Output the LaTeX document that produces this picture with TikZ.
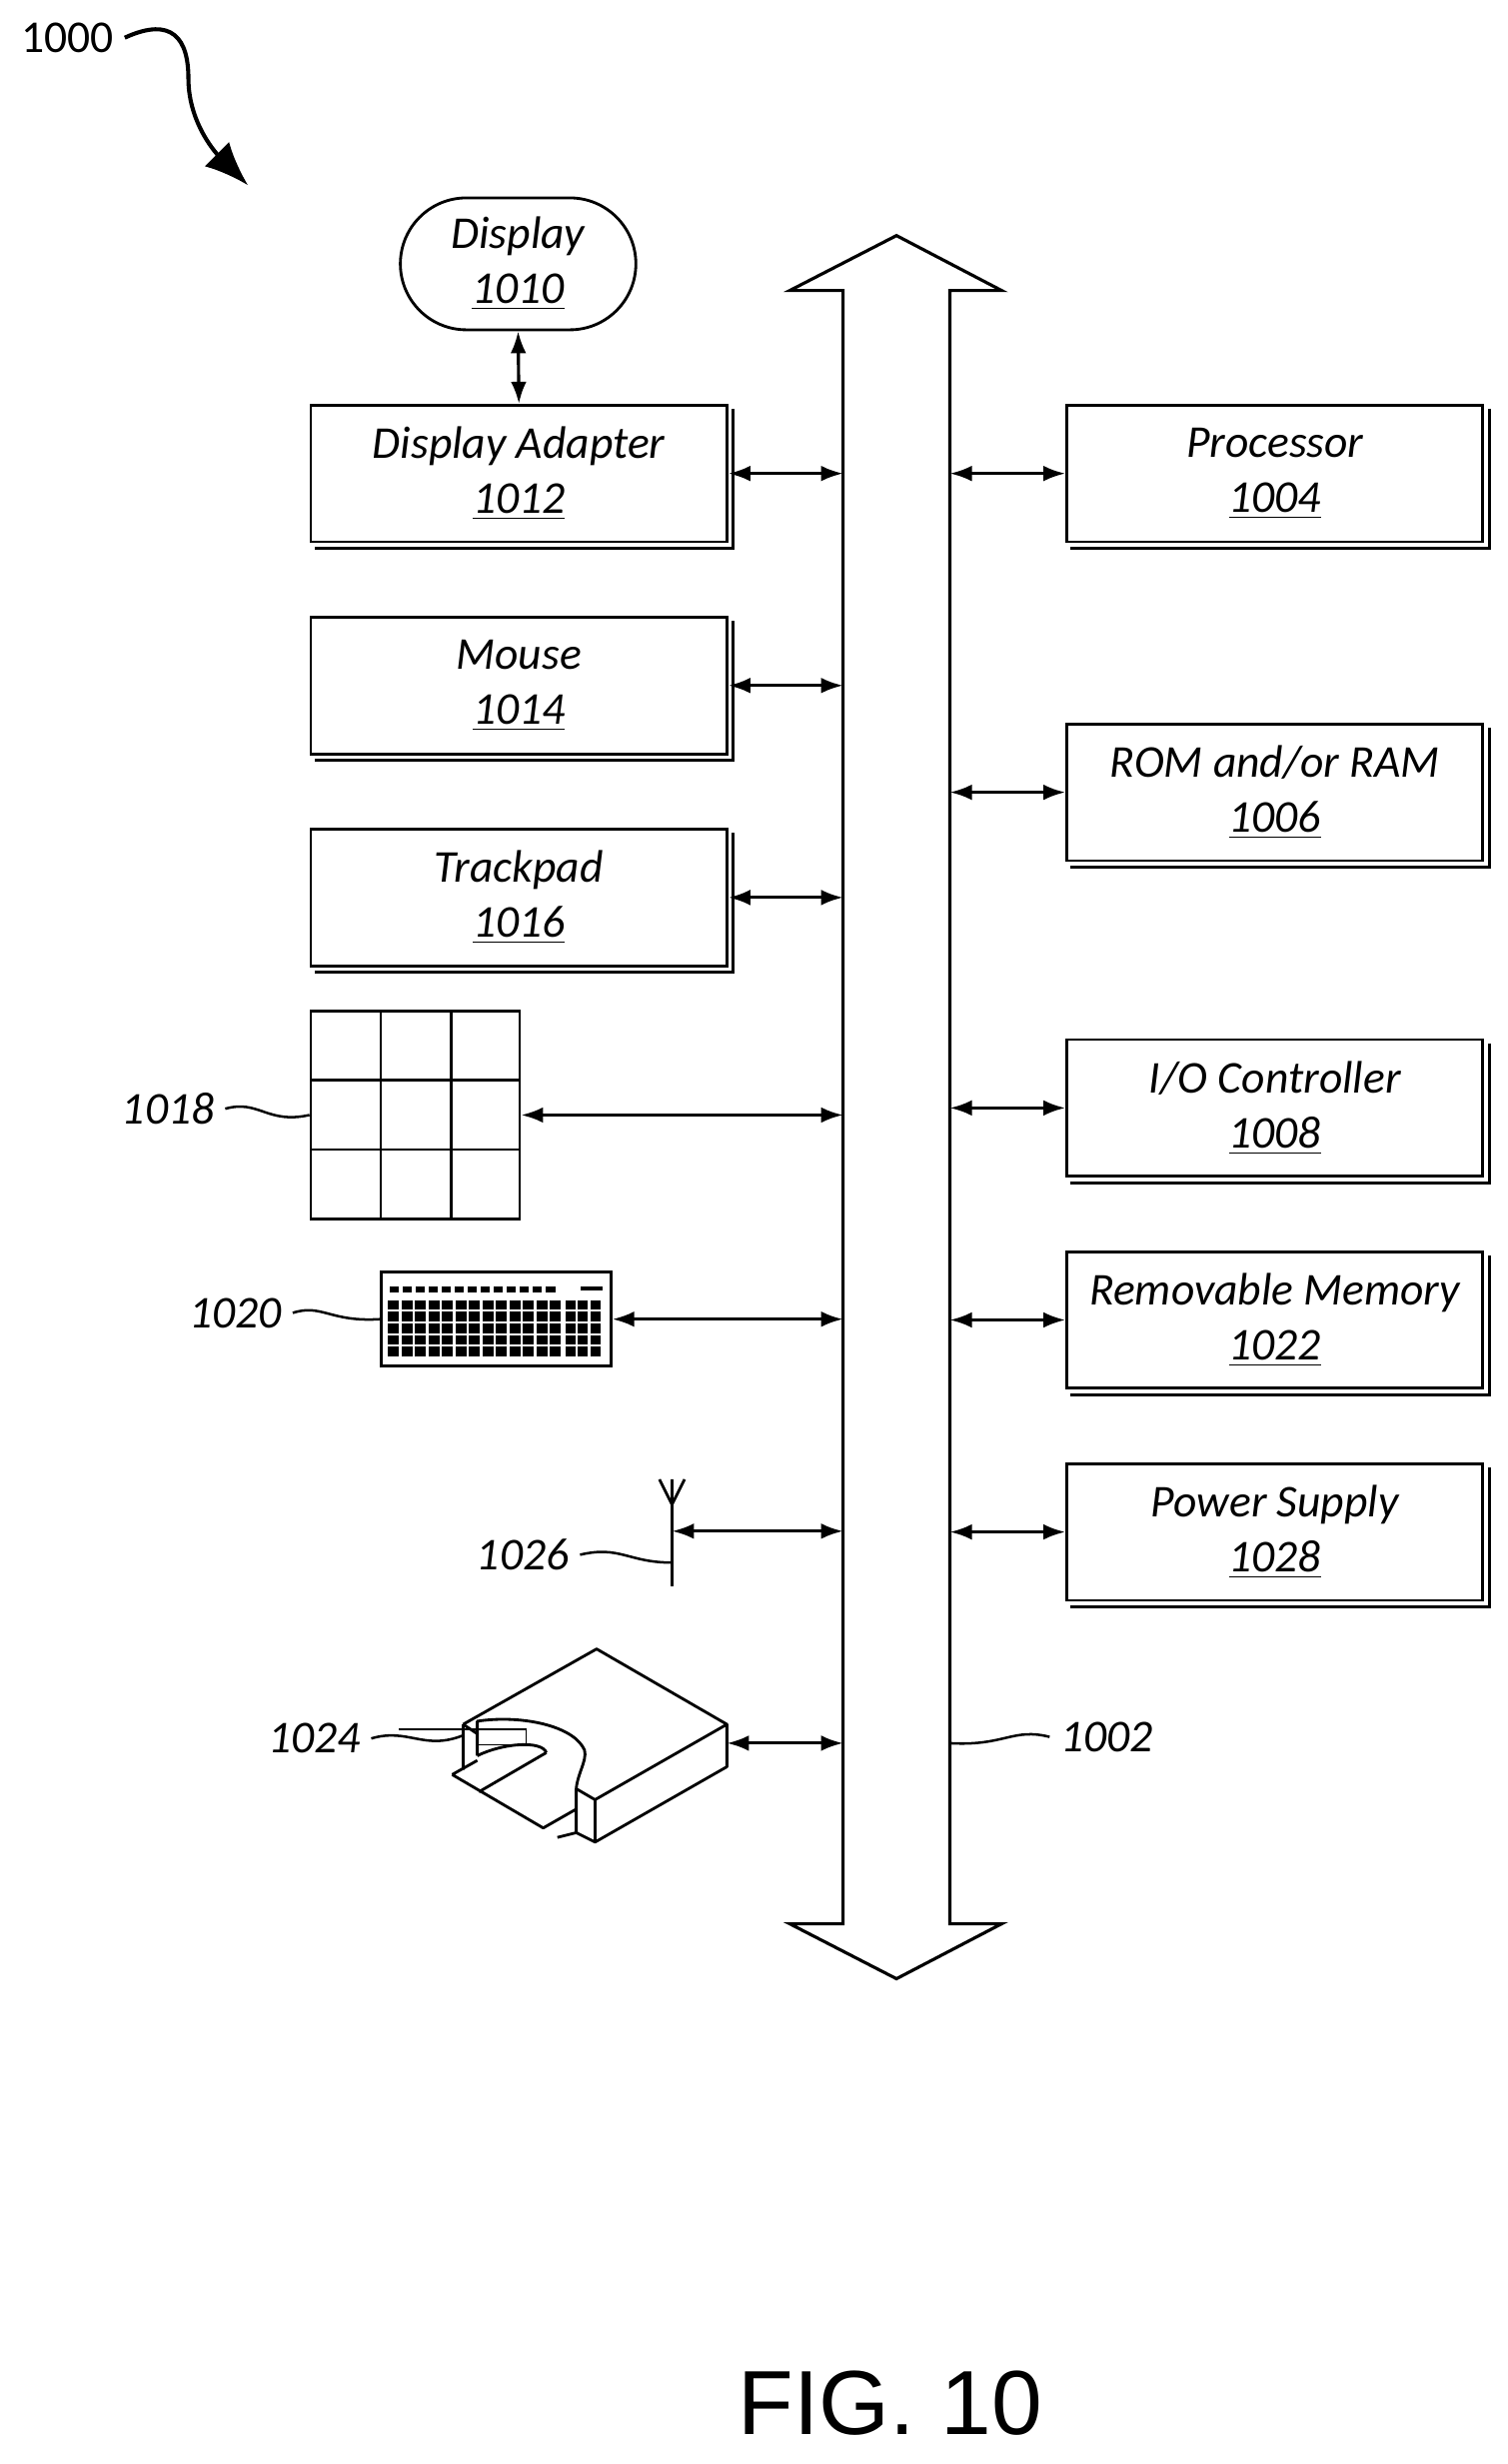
\documentclass[tikz,border=0pt]{standalone}
\usepackage{fontspec}
\setmainfont{Carlito}
\newfontfamily\figfont{Liberation Sans}
\usetikzlibrary{arrows.meta}
\begin{document}
\begin{tikzpicture}[x=0.5pt,y=-0.5pt,
  lbl/.style={font=\fontsize{14.5}{17.5}\selectfont\itshape},
  box/.style={draw,line width=0.9pt,minimum width=132.5pt,minimum height=43.5pt,align=center,inner sep=0pt,lbl,
    append after command={\pgfextra{\draw[line width=0.9pt] ([shift={(1.6pt,-1.6pt)}]\tikzlastnode.north east) -- ([shift={(1.6pt,-1.6pt)}]\tikzlastnode.south east) -- ([shift={(1.6pt,-1.6pt)}]\tikzlastnode.south west);}}},
  con/.style={{Latex[length=7pt,width=5pt]}-{Latex[length=7pt,width=5pt]},line width=1pt},
  lead/.style={line width=0.8pt}]
\useasboundingbox (0,0) rectangle (960,1569);
% bus
\draw[line width=1pt] (571,150) -- (638,185) -- (605,185) -- (605,1225) -- (638,1225) -- (571,1260) -- (503,1225) -- (537,1225) -- (537,185) -- (503,185) -- cycle;
\coordinate (busL) at (537,0); \coordinate (busR) at (605,0);
% title ref
\node[font=\fontsize{14.5}{17}\selectfont] (n1000) at (43,24) {1000};
\draw[line width=1.3pt,-{Latex[length=14pt,width=11pt]}] (n1000.east) .. controls (110,10) and (120,25) .. (120,50) .. controls (120,80) and (140,100) .. (158,118);
% display
\node[draw,line width=0.9pt,rounded corners=21pt,minimum width=75pt,minimum height=42pt,align=center,lbl,inner sep=0pt] (disp) at (330,168) {Display\\\underline{1010}};
\node[box] (da) at (330.5,301.5) {Display Adapter\\\underline{1012}};
\draw[con] (disp.south) -- (da.north);
\node[box] (mouse) at (330.5,436.5) {Mouse\\\underline{1014}};
\node[box] (track) at (330.5,571.5) {Trackpad\\\underline{1016}};
\draw[con] (da.east) -- (da.east -| busL);
\draw[con] (mouse.east) -- (mouse.east -| busL);
\draw[con] (track.east) -- (track.east -| busL);
% right boxes
\node[box] (proc) at (812,301.5) {Processor\\\underline{1004}};
\node[box] (rom) at (812,504.5) {ROM and/or RAM\\\underline{1006}};
\node[box] (io) at (812,705.5) {I/O Controller\\\underline{1008}};
\node[box] (rem) at (812,840.5) {Removable Memory\\\underline{1022}};
\node[box] (pow) at (812,975.5) {Power Supply\\\underline{1028}};
\foreach \n in {proc,rom,io,rem,pow}{\draw[con] (\n.west -| busR) -- (\n.west);}
% keypad grid
\node[draw,line width=0.9pt,minimum width=66.5pt,minimum height=66pt,inner sep=0pt] (grid) at (264.5,710) {};
\draw[line width=0.9pt] (242.5,644) -- (242.5,776) (287.5,644) -- (287.5,776) (198,688) -- (331,688) (198,732) -- (331,732);
\draw[con] (grid.east) -- (grid.east -| busL);
\node[lbl] (l1018) at (107,706) {1018};
\draw[lead] (l1018.east) .. controls (165,700) and (170,716) .. (grid.west);
% keyboard
\node[draw,line width=1pt,minimum width=73pt,minimum height=30pt,inner sep=0pt] (kb) at (316,840) {};
\foreach \i in {0,...,12}{\fill (248+\i*8.3,819) rectangle ++(6,4);}
\fill (370,819) rectangle ++(14,2.5);
\foreach \r in {0,...,4}{\foreach \i in {0,...,12}{\fill (247+\i*8.6,828+\r*7.4) rectangle ++(7,6);}
  \foreach \i in {0,...,2}{\fill (360+\i*8,828+\r*7.4) rectangle ++(6.5,6);}}
\draw[con] (kb.east) -- (kb.east -| busL);
\node[lbl] (l1020) at (150,836) {1020};
\draw[lead] (l1020.east) .. controls (205,830) and (210,842) .. (kb.west);
% antenna
\coordinate (ant) at (428,975);
\draw[line width=0.9pt] (428,942) -- (428,1010) (420,942) -- (428,958) -- (436,942);
\draw[con] (ant) -- (ant -| busL);
\node[lbl] (l1026) at (333,990) {1026};
\draw[lead] (l1026.east) .. controls (395,984) and (400,995) .. (428,995);
% disk drive
\coordinate (disk) at (463,1110);
\draw[line width=0.9pt,line join=round]
  (295,1098) -- (380,1050) -- (463,1098) -- (379,1146) -- (367,1139)
  .. controls (368,1128) and (376,1118) .. (371,1112) .. controls (362,1098) and (330,1092) .. (304,1096) -- (304,1104) -- (295,1098);
\draw[line width=0.9pt,line join=round]
  (463,1098) -- (463,1125) -- (379,1173) -- (379,1146)
  (367,1139) -- (367,1167) -- (379,1173)
  (295,1098) -- (295,1127)
  (304,1104) -- (304,1118)
  (288,1130) -- (346,1164) -- (367,1152)
  (288,1130) -- (304,1121)
  (305,1141) -- (348,1116) (304,1118) .. controls (320,1110) and (345,1108) .. (348,1116)
  (355,1170) -- (367,1167);
\draw[con] (disk) -- (disk -| busL);
\node[lbl] (l1024) at (200,1107) {1024};
\draw[lead] (l1024.east) .. controls (260,1100) and (270,1115) .. (295,1105);
\draw[line width=0.5pt] (254,1101) -- (335,1101) -- (335,1111) -- (304,1111);
% bus label
\node[lbl] (l1002) at (705,1106) {1002};
\draw[lead] (605,1110) .. controls (640,1112) and (645,1100) .. (l1002.west);
% fig
\node[font=\figfont\fontsize{29}{33}\selectfont] (fig) at (567,1530) {FIG. 10};
\end{tikzpicture}
\end{document}
